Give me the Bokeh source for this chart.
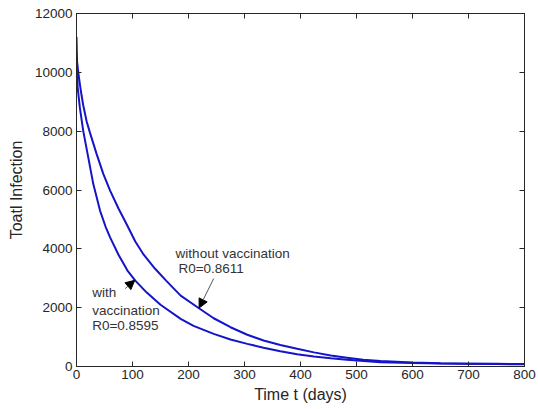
from bokeh.plotting import figure
from bokeh.models import (Range1d, FixedTicker, LinearAxis, Label, Arrow,
                          NormalHead, ColumnDataSource)
from bokeh.embed import file_html
from bokeh.resources import INLINE

# ---- data ----
t_without = [0, 3, 6, 9, 12, 18, 24, 36, 48, 60, 75, 90, 105, 120, 140, 160,
             186, 218, 245, 275, 305, 334, 364, 394, 424, 454, 483, 512, 543,
             600, 650, 700, 750, 800]
infected_without = [10500, 10020, 9600, 9220, 8880, 8340, 7950, 7220, 6540,
                    5980, 5370, 4820, 4250, 3800, 3330, 2920, 2410, 1990, 1640,
                    1335, 1080, 883, 730, 600, 480, 374, 300, 227, 190, 140,
                    110, 95, 90, 85]

t_with = [0, 2, 6, 12, 21, 30, 42, 52, 60, 75, 91, 105, 125, 150, 186, 209, 245,
          275, 305, 334, 364, 394, 424, 454, 483, 543, 600, 650, 700, 750, 800]
infected_with = [11200, 9500, 8800, 8010, 7110, 6200, 5300, 4750, 4390, 3800,
                 3260, 2920, 2520, 2100, 1620, 1380, 1110, 920, 770, 640, 520,
                 420, 340, 280, 227, 146, 115, 100, 90, 82, 78]

x_ticks = [0, 100, 200, 300, 400, 500, 600, 700, 800]
x_tick_labels = ["0", "100", "200", "300", "400", "500", "600", "700", "800"]
y_ticks = [0, 2000, 4000, 6000, 8000, 10000, 12000]
y_tick_labels = ["0", "2000", "4000", "6000", "8000", "10000", "12000"]

label_without = ["without vaccination", "R0=0.8611"]
label_with = ["with", "vaccination", "R0=0.8595"]

# annotation anchors (data units)
without_text_pos = [(177, 3850), (182, 3330)]
with_text_pos = [(28, 2520), (28, 1900), (28, 1390)]
without_arrow = (245, 2990, 219, 1990)
with_arrow = (87, 2650, 104, 2930)

FONT = "Liberation Sans"
INK = "#262626"
BLUE = "#1414c8"

p = figure(width=538, height=409, output_backend="svg", toolbar_location=None,
           x_range=Range1d(0, 800), y_range=Range1d(0, 12000),
           min_border_left=76, min_border_right=14, min_border_top=13,
           min_border_bottom=43)
p.background_fill_color = "white"
p.border_fill_color = "white"
p.outline_line_color = INK
p.outline_line_width = 1
p.xgrid.visible = False
p.ygrid.visible = False

src_without = ColumnDataSource(dict(t=t_without, v=infected_without))
src_with = ColumnDataSource(dict(t=t_with, v=infected_with))
p.line("t", "v", source=src_without, line_color=BLUE, line_width=2)
p.line("t", "v", source=src_with, line_color=BLUE, line_width=2)

def style_axis(ax, ticks, labels, show_labels=True):
    ax.ticker = FixedTicker(ticks=ticks)
    ax.major_label_overrides = {k: v for k, v in zip(ticks, labels)}
    ax.axis_line_color = INK
    ax.major_tick_line_color = INK
    ax.major_tick_in = 5
    ax.major_tick_out = 0
    ax.minor_tick_in = 0
    ax.minor_tick_out = 0
    ax.minor_tick_line_color = None
    ax.major_label_text_font = FONT
    ax.major_label_text_color = INK
    if show_labels:
        ax.major_label_text_font_size = "13.5px"
    else:
        ax.major_label_text_font_size = "0px"
        ax.major_label_standoff = 0

xa = p.xaxis[0]
style_axis(xa, x_ticks, x_tick_labels)
xa.major_label_standoff = 3
xa.axis_label = "Time t (days)"
xa.axis_label_text_font = FONT
xa.axis_label_text_font_size = "16px"
xa.axis_label_text_font_style = "normal"
xa.axis_label_text_color = INK
xa.axis_label_standoff = 4

ya = p.yaxis[0]
style_axis(ya, y_ticks, y_tick_labels)
ya.major_label_standoff = 4
ya.axis_label = "Toatl Infection"
ya.axis_label_text_font = FONT
ya.axis_label_text_font_size = "16px"
ya.axis_label_text_font_style = "normal"
ya.axis_label_text_color = INK
ya.axis_label_standoff = 7

top_ax = LinearAxis()
style_axis(top_ax, x_ticks, ["" for _ in x_ticks], show_labels=False)
p.add_layout(top_ax, "above")
right_ax = LinearAxis()
style_axis(right_ax, y_ticks, ["" for _ in y_ticks], show_labels=False)
p.add_layout(right_ax, "right")

for txt, (x, y) in zip(label_without, without_text_pos):
    p.add_layout(Label(x=x, y=y, text=txt, text_font=FONT,
                       text_font_size="13.5px", text_color="#333333",
                       text_baseline="middle", text_align="left"))
for txt, (x, y) in zip(label_with, with_text_pos):
    p.add_layout(Label(x=x, y=y, text=txt, text_font=FONT,
                       text_font_size="13.5px", text_color="#333333",
                       text_baseline="middle", text_align="left"))

for (xs, ys, xe, ye) in (without_arrow, with_arrow):
    p.add_layout(Arrow(end=NormalHead(size=9, fill_color="black",
                                      line_color="black"),
                       x_start=xs, y_start=ys, x_end=xe, y_end=ye,
                       line_color="#555555", line_width=1))

open("out.html", "w").write(file_html(p, INLINE))
